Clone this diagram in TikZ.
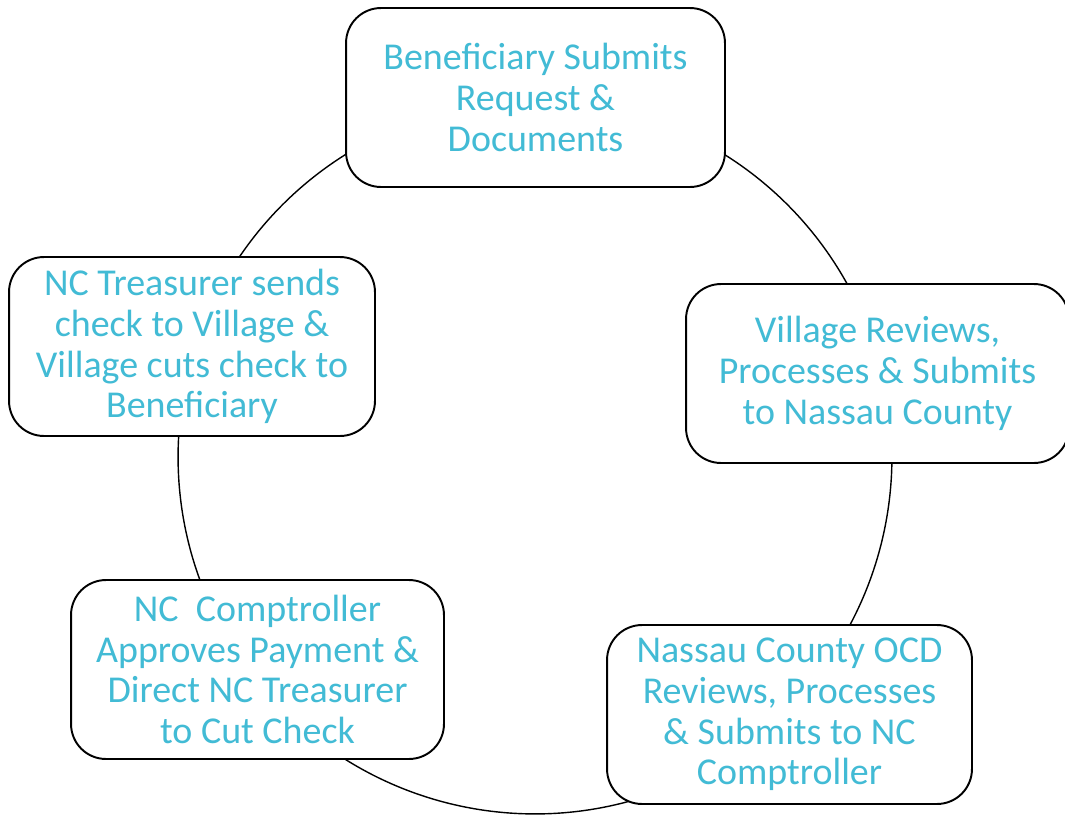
\documentclass[tikz,border=0pt]{standalone}
\usepackage{fontspec}
\setmainfont{Carlito}
\usetikzlibrary{backgrounds}
\definecolor{txtcyan}{RGB}{66,187,213}
\begin{document}
\begin{tikzpicture}[x=0.02cm,y=-0.02cm,
  stepbox/.style={draw=black, line width=1.1pt, fill=white, rounded corners=0.7cm,
    minimum width=7.58cm, minimum height=3.58cm, align=center, text=txtcyan,
    font=\fontsize{21.6}{23.2}\selectfont, inner sep=1pt},
  link/.style={draw=black, line width=0.8pt}]
\useasboundingbox (0,0) rectangle (1065,815);
\node[stepbox] (s1) at (535.5,97.5) {Beneficiary Submits\\Request \&\\Documents};
\node[stepbox, minimum width=7.66cm] (s2) at (877.5,373.5) {Village Reviews,\\Processes \& Submits\\to Nassau County};
\node[stepbox, minimum width=7.3cm] (s3) at (789.5,714.5) {Nassau County OCD\\Reviews, Processes\\\& Submits to NC\\Comptroller};
\node[stepbox, minimum width=7.46cm] (s4) at (257.5,669.5) {NC\ \ Comptroller\\Approves Payment \&\\Direct NC Treasurer\\to Cut Check};
\node[stepbox, minimum width=7.32cm] (s5) at (192,346.5) {NC Treasurer sends\\check to Village \&\\Village cuts check to\\Beneficiary};
\coordinate (ctr) at (535,457);
\begin{scope}[on background layer]
  \draw[link] (ctr) ++(62:7.14cm) arc (62:26:7.14cm);
  \draw[link] (ctr) ++(3:7.14cm) arc (3:-30:7.14cm);
  \draw[link] (ctr) ++(-70:7.14cm) arc (-70:-124:7.14cm);
  \draw[link] (ctr) ++(204:7.14cm) arc (204:172:7.14cm);
  \draw[link] (ctr) ++(149:7.14cm) arc (149:118:7.14cm);
\end{scope}
\end{tikzpicture}
\end{document}
